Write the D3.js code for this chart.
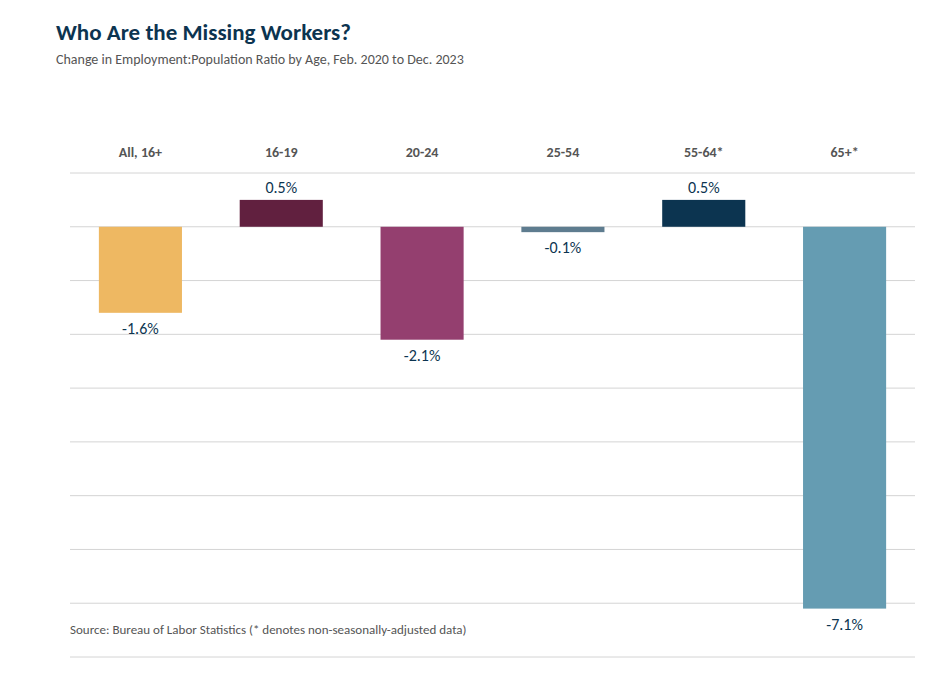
<!DOCTYPE html>
<html>
<head>
<meta charset="utf-8">
<script src="https://cdn.jsdelivr.net/npm/d3@7"></script>
<style>
  body { margin: 0; background: #fff; font-family: Calibri, Carlito, "Open Sans", sans-serif; }
</style>
</head>
<body>
<svg id="chart" width="936" height="680"></svg>
<script>
var categories = ["All, 16+", "16-19", "20-24", "25-54", "55-64*", "65+*"];
var values = [-1.6, 0.5, -2.1, -0.1, 0.5, -7.1];
var colors = ["#EEB862", "#61203F", "#943F6F", "#5E7C8F", "#0C3450", "#659CB2"];
var gridTicks = [1, 0, -1, -2, -3, -4, -5, -6, -7, -8];

var svg = d3.select("#chart");

// title block
svg.append("text").attr("x", 56).attr("y", 40)
  .attr("font-size", 23).attr("font-weight", "bold").attr("fill", "#0C3450")
  .text("Who Are the Missing Workers?");
svg.append("text").attr("x", 56).attr("y", 64)
  .attr("font-size", 14).attr("fill", "#555")
  .text("Change in Employment:Population Ratio by Age, Feb. 2020 to Dec. 2023");

var x = d3.scaleBand().domain(categories).range([70, 915]).paddingInner(0.41).paddingOuter(0.205);
var y = d3.scaleLinear().domain([1, -8]).range([173, 657]);

// gridlines
svg.append("g").selectAll("line")
  .data(gridTicks)
  .enter().append("line")
  .attr("x1", 70).attr("x2", 915)
  .attr("y1", function(d) { return y(d); })
  .attr("y2", function(d) { return y(d); })
  .attr("stroke", "#d4d4d4").attr("stroke-width", 1);

// category labels
svg.append("g").selectAll("text")
  .data(categories)
  .enter().append("text")
  .attr("x", function(d) { return x(d) + x.bandwidth() / 2; })
  .attr("y", 157)
  .attr("text-anchor", "middle")
  .attr("font-size", 14).attr("font-weight", "bold").attr("fill", "#555")
  .text(function(d) { return d; });

// bars
svg.append("g").selectAll("rect")
  .data(values)
  .enter().append("rect")
  .attr("x", function(d, i) { return x(categories[i]); })
  .attr("width", x.bandwidth())
  .attr("y", function(d) { return y(Math.max(0, d)); })
  .attr("height", function(d) { return Math.abs(y(d) - y(0)); })
  .attr("fill", function(d, i) { return colors[i]; });

// value labels
svg.append("g").selectAll("text")
  .data(values)
  .enter().append("text")
  .attr("x", function(d, i) { return x(categories[i]) + x.bandwidth() / 2; })
  .attr("y", function(d) { return d >= 0 ? y(d) - 7 : y(d) + 21; })
  .attr("text-anchor", "middle")
  .attr("font-size", 16).attr("fill", "#0C3450")
  .text(function(d) { return d.toFixed(1) + "%"; });

// source
svg.append("text").attr("x", 70).attr("y", 634)
  .attr("font-size", 13).attr("fill", "#555")
  .text("Source: Bureau of Labor Statistics (* denotes non-seasonally-adjusted data)");
</script>
</body>
</html>
